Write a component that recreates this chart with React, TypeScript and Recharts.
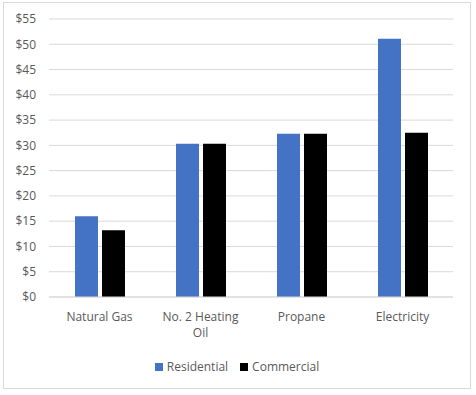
import { BarChart, Bar, XAxis, YAxis, CartesianGrid, Text } from 'recharts';

const categories = ['Natural Gas', 'No. 2 Heating Oil', 'Propane', 'Electricity'];
const residential = [16.0, 30.3, 32.3, 51.1];
const commercial = [13.2, 30.3, 32.3, 32.5];
const yTicks = [0, 5, 10, 15, 20, 25, 30, 35, 40, 45, 50, 55];
const seriesNames = ['Residential', 'Commercial'];
const seriesColors = ['#4472C4', '#000000'];

const data = categories.map((name, i) => ({
  name,
  residential: residential[i],
  commercial: commercial[i],
}));

const FONT = '"Open Sans", "Liberation Sans", sans-serif';

const CategoryTick = ({ x, y, payload }: any) => (
  <Text
    x={x}
    y={y}
    width={95}
    textAnchor="middle"
    verticalAnchor="start"
    lineHeight={16}
    fill="#595959"
    fontSize={12}
    fontFamily={FONT}
  >
    {payload.value}
  </Text>
);

const App = () => {
  return (
    <div
      style={{
        position: 'absolute',
        left: 3,
        top: 2,
        width: 466,
        height: 385,
        border: '1px solid #d9d9d9',
        background: '#fff',
        fontFamily: FONT,
      }}
    >
      <BarChart
        width={466}
        height={385}
        data={data}
        margin={{ top: 16, right: 17, bottom: 51, left: 0 }}
        barGap={4}
        barSize={23}
      >
        <CartesianGrid vertical={false} stroke="#d9d9d9" />
        <XAxis
          dataKey="name"
          height={40}
          axisLine={{ stroke: '#d9d9d9' }}
          tickLine={false}
          tickMargin={9}
          interval={0}
          tick={<CategoryTick />}
        />
        <YAxis
          width={45}
          domain={[0, 55]}
          ticks={yTicks}
          interval={0}
          axisLine={false}
          tickLine={false}
          tickSize={0}
          tickMargin={13}
          tickFormatter={(v: number) => `$${v}`}
          tick={{ fill: '#595959', fontSize: 12, fontFamily: FONT }}
        />
        <Bar dataKey="residential" name={seriesNames[0]} fill={seriesColors[0]} isAnimationActive={false} />
        <Bar dataKey="commercial" name={seriesNames[1]} fill={seriesColors[1]} isAnimationActive={false} />
      </BarChart>
      <div
        style={{
          position: 'absolute',
          left: 0,
          right: 0,
          top: 355,
          display: 'flex',
          justifyContent: 'center',
          gap: 12,
          fontSize: 12,
          color: '#595959',
          lineHeight: '18px',
        }}
      >
        {seriesNames.map((n, i) => (
          <div key={n} style={{ display: 'flex', alignItems: 'center', gap: 4 }}>
            <span style={{ width: 8, height: 8, background: seriesColors[i], display: 'inline-block' }} />
            <span>{n}</span>
          </div>
        ))}
      </div>
    </div>
  );
};

export default App;
